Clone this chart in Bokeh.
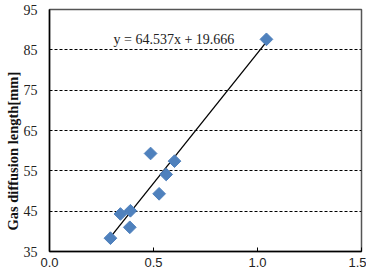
from bokeh.plotting import figure
from bokeh.embed import file_html
from bokeh.resources import INLINE
from bokeh.models import Range1d, FixedTicker, Label, Title, CustomJSTickFormatter
import numpy as np

porosity = [0.293, 0.341, 0.389, 0.386, 0.486, 0.527, 0.561, 0.601, 1.043]
diffusion_length = [38.3, 44.3, 45.1, 41.0, 59.3, 49.3, 54.1, 57.4, 87.6]
slope = 64.537
intercept = 19.666
equation = "y = 64.537x + 19.666"
x_ticks = [0.0, 0.5, 1.0, 1.5]
y_ticks = [35, 45, 55, 65, 75, 85, 95]
y_label = "Gas diffusion length[mm]"

p = figure(width=366, height=280, output_backend="svg", toolbar_location=None,
           x_range=Range1d(0, 1.5), y_range=Range1d(35, 95),
           min_border_left=49, min_border_right=5, min_border_top=9, min_border_bottom=29)
p.background_fill_color = "white"
p.border_fill_color = "white"
p.outline_line_color = "#555555"
p.outline_line_width = 1.5

p.xgrid.visible = False
p.ygrid.ticker = FixedTicker(ticks=y_ticks)
p.ygrid.grid_line_color = "black"
p.ygrid.grid_line_dash = "3 2"
p.ygrid.grid_line_width = 1

p.xaxis.ticker = FixedTicker(ticks=x_ticks)
p.xaxis.formatter = CustomJSTickFormatter(code="return tick.toFixed(1);")
p.xaxis.major_tick_in = 4
p.xaxis.major_tick_out = 0
p.xaxis.minor_tick_line_color = None
p.xaxis.axis_line_color = "black"
p.xaxis.axis_line_width = 1.5
p.xaxis.major_label_text_font = "Liberation Sans"
p.xaxis.major_label_text_font_size = "13px"
p.xaxis.major_label_text_color = "#222222"
p.xaxis.major_label_standoff = 6

p.yaxis.ticker = FixedTicker(ticks=y_ticks)
p.yaxis.major_tick_in = 0
p.yaxis.major_tick_out = 0
p.yaxis.minor_tick_line_color = None
p.yaxis.axis_line_color = "black"
p.yaxis.axis_line_width = 1.5
p.yaxis.major_label_text_font = "Liberation Serif"
p.yaxis.major_label_text_font_size = "14px"
p.yaxis.major_label_text_color = "#222222"
p.yaxis.major_label_standoff = 12

xl = np.array([min(porosity), max(porosity)])
p.line(xl, slope * xl + intercept, line_color="black", line_width=1.3)
p.scatter(porosity, diffusion_length, marker="square", size=9, angle=np.pi / 4,
          fill_color="#4F81BD", line_color="#4F81BD")

p.add_layout(Label(x=0.308, y=87.6, text=equation, text_font="Liberation Serif",
                   text_font_size="14px", text_color="#222222", text_baseline="middle"))
p.add_layout(Title(text=y_label, align="left", offset=21,
                   text_font="Liberation Serif", text_font_style="bold",
                   text_font_size="14.5px", text_color="#111111",
                   standoff=0), "left")

open("out.html", "w").write(file_html(p, INLINE))
